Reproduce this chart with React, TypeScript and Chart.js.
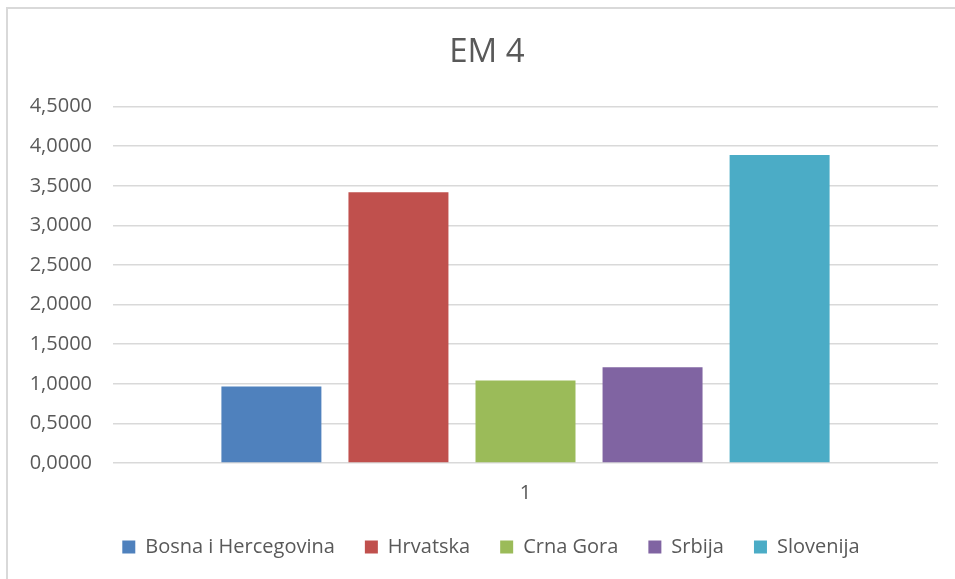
import React, { useEffect, useRef } from "react";
import { Chart, registerables } from "chart.js";

Chart.register(...registerables);

const chartTitle = "EM 4";
const categories = ["1"];
const seriesNames = ["Bosna i Hercegovina", "Hrvatska", "Crna Gora", "Srbija", "Slovenija"];
const seriesValues = [0.966, 3.419, 1.042, 1.208, 3.89];
const seriesColors = ["#4f81bd", "#c0504d", "#9bbb59", "#8064a2", "#4bacc6"];
const yMin = 0;
const yMax = 4.5;
const yStep = 0.5;

const FONT = "'Open Sans', 'Noto Sans', sans-serif";
const TEXT = "#595959";

const shiftPlugin = {
  id: "shiftBlocks",
  afterLayout(chart: any) {
    if (chart.legend) {
      chart.legend.left += 22;
      chart.legend.right += 22;
    }
    if (chart.titleBlock) {
      chart.titleBlock.left += 18;
      chart.titleBlock.right += 18;
    }
  },
};

export default function App() {
  const ref = useRef<HTMLCanvasElement | null>(null);

  useEffect(() => {
    if (!ref.current) return;
    const chart = new Chart(ref.current, {
      type: "bar",
      data: {
        labels: categories,
        datasets: seriesNames.map((name, i) => ({
          label: name,
          data: [seriesValues[i]],
          backgroundColor: seriesColors[i],
          borderWidth: 0,
          categoryPercentage: 0.77,
          barPercentage: 0.787,
        })),
      },
      options: {
        animation: false,
        responsive: true,
        maintainAspectRatio: false,
        layout: { padding: { left: 0, right: 17, top: 0, bottom: 12 } },
        plugins: {
          title: {
            display: true,
            text: chartTitle,
            color: TEXT,
            font: { family: FONT, size: 33, weight: "normal" },
            padding: { top: 33, bottom: 34 },
          },
          legend: {
            position: "bottom",
            labels: {
              color: TEXT,
              font: { family: FONT, size: 20 },
              boxWidth: 13,
              boxHeight: 13,
              padding: 30,
            },
          },
          tooltip: { enabled: false },
        },
        scales: {
          x: {
            grid: { display: false, drawTicks: false },
            border: { display: false },
            ticks: { color: TEXT, font: { family: FONT, size: 20 }, padding: 18 },
            afterFit: (scale: any) => {
              scale.height = 44;
            },
          },
          y: {
            min: yMin,
            max: yMax,
            afterFit: (scale: any) => {
              scale.width = 113;
            },
            grid: { color: "#d9d9d9", lineWidth: 1.5, drawTicks: false },
            border: { display: false },
            ticks: {
              stepSize: yStep,
              color: TEXT,
              font: { family: FONT, size: 20 },
              padding: 21,
              callback: (v: any) => Number(v).toFixed(4).replace(".", ","),
            },
          },
        },
      },
      plugins: [shiftPlugin],
    });
    return () => chart.destroy();
  }, []);

  return (
    <>
      <div style={{ position: "fixed", left: 0, top: 0, width: 955, height: 579, background: "#fff" }}>
        <canvas ref={ref} />
      </div>
      <div
        style={{
          position: "fixed",
          left: 6,
          top: 7,
          width: 949,
          height: 572,
          boxSizing: "border-box",
          borderTop: "2px solid #d9d9d9",
          borderLeft: "2px solid #d9d9d9",
          pointerEvents: "none",
        }}
      />
    </>
  );
}
